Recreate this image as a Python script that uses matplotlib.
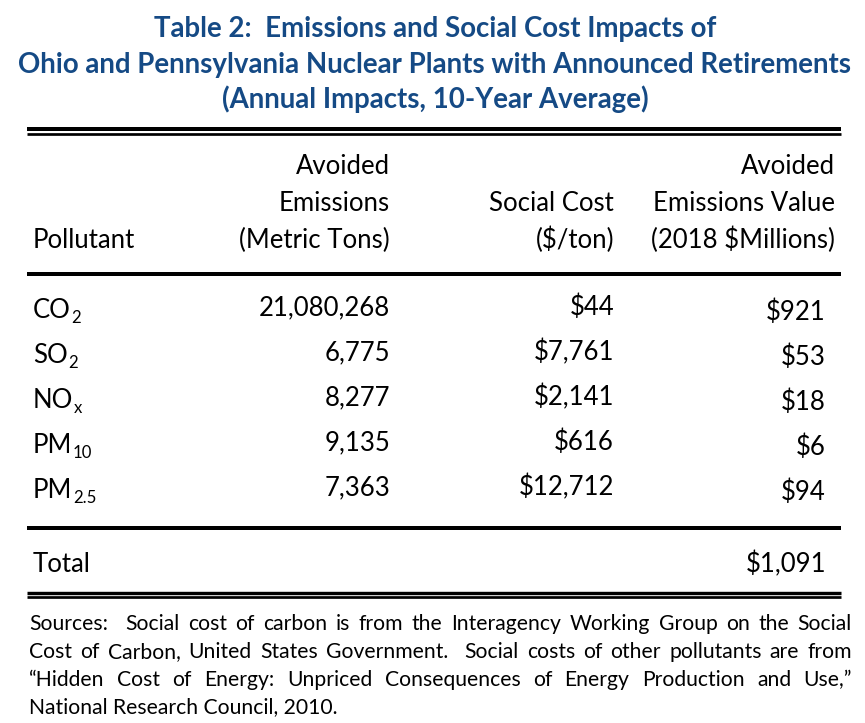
import matplotlib
matplotlib.use("Agg")
import matplotlib.pyplot as plt

# ---------------- data ----------------
TITLE_LINES = [
    "Table 2:  Emissions and Social Cost Impacts of",
    "Ohio and Pennsylvania Nuclear Plants with Announced Retirements",
    "(Annual Impacts, 10-Year Average)",
]
HEAD_POLLUTANT = "Pollutant"
HEAD_TONS = ["Avoided", "Emissions", "(Metric Tons)"]
HEAD_COST = ["Social Cost", "($/ton)"]
HEAD_VALUE = ["Avoided", "Emissions Value", "(2018 $Millions)"]

POLLUTANT_BASE = ["CO", "SO", "NO", "PM", "PM"]
POLLUTANT_SUB = ["2", "2", "x", "10", "2.5"]
AVOIDED_TONS = ["21,080,268", "6,775", "8,277", "9,135", "7,363"]
SOCIAL_COST = ["$44", "$7,761", "$2,141", "$616", "$12,712"]
VALUE_MILLIONS = ["$921", "$53", "$18", "$6", "$94"]
TOTAL_LABEL = "Total"
TOTAL_VALUE = "$1,091"

SOURCES_LINES = [
    "Sources:  Social cost of carbon is from the Interagency Working Group on the Social",
    "Cost of Carbon, United States Government.  Social costs of other pollutants are from",
    "\u201cHidden Cost of Energy: Unpriced Consequences of Energy Production and Use,\u201d",
    "National Research Council, 2010.",
]

# ---------------- style / layout ----------------
FONT = ["Lato", "DejaVu Sans"]
TITLE_COLOR = "#154A85"
W, H = 865, 723

fig = plt.figure(figsize=(W / 100, H / 100), dpi=100)
ax = fig.add_axes([0, 0, 1, 1])
ax.set_xlim(0, W)
ax.set_ylim(H, 0)
ax.axis("off")
fig.canvas.draw()
R = fig.canvas.get_renderer()


def put(x, y, s, size, ha="left", weight="normal", color="black"):
    return ax.text(x, y, s, fontsize=size, ha=ha, va="baseline",
                   fontweight=weight, color=color, family=FONT,
                   parse_math=False)


def width(s, size, weight="normal"):
    t = put(0, 0, s, size, weight=weight)
    w = t.get_window_extent(R).width
    t.remove()
    return w


# fit font sizes to reference widths
title_fs = 17 * 834 / width(TITLE_LINES[1], 17, "bold")
body_fs = 16 * 184 / width(HEAD_VALUE[2], 16)
src_fs = 12 * 308 / width(SOURCES_LINES[3], 12)
sub_fs = body_fs * 0.65

# title
for yb, line in zip([37, 73, 108], TITLE_LINES):
    put(435, yb, line, title_fs, ha="center", weight="bold", color=TITLE_COLOR)

# rules
LX0, LX1 = 27, 841


def rule(y, px):
    ax.plot([LX0, LX1], [y, y], color="black", lw=px * 0.72,
            solid_capstyle="butt")


rule(129.3, 4.0)
rule(134.0, 2.7)
rule(274.0, 4.0)
rule(528.0, 4.0)
rule(592.7, 3.4)
rule(597.4, 2.7)

# header
COL_L = 33
COL_TONS = 390
COL_COST = 614
COL_VALUE = 835
COL_VALUE_NUM = 826
HB = [174, 211, 248]
put(COL_L, HB[2], HEAD_POLLUTANT, body_fs)
for yb, s in zip(HB, HEAD_TONS):
    put(COL_TONS, yb, s, body_fs, ha="right")
for yb, s in zip(HB[1:], HEAD_COST):
    put(COL_COST, yb, s, body_fs, ha="right")
for yb, s in zip(HB, HEAD_VALUE):
    put(COL_VALUE, yb, s, body_fs, ha="right")

# rows
ROW0, ROWSTEP = 315, 45
for i in range(len(POLLUTANT_BASE)):
    yb = ROW0 + i * ROWSTEP
    t = put(COL_L, yb + 3, POLLUTANT_BASE[i], body_fs)
    x1 = t.get_window_extent(R).x1
    put(x1 + 0.5, yb + 8, POLLUTANT_SUB[i], sub_fs)
    put(COL_TONS, yb, AVOIDED_TONS[i], body_fs, ha="right")
    put(COL_COST, yb, SOCIAL_COST[i], body_fs, ha="right")
    put(COL_VALUE_NUM, yb + 5, VALUE_MILLIONS[i], body_fs, ha="right")

# total
put(COL_L, 572, TOTAL_LABEL, body_fs)
put(COL_VALUE_NUM, 572, TOTAL_VALUE, body_fs, ha="right")

# sources (justified)
SX0, SX1 = 29, 852
for k, (yb, line) in enumerate(zip([630, 658, 686, 713], SOURCES_LINES)):
    if k == len(SOURCES_LINES) - 1:
        put(SX0, yb, line, src_fs)
        continue
    toks = line.split(" ")
    words, gaps = [], []
    pending = 0
    for tkn in toks:
        if tkn == "":
            pending += 1
            continue
        if words:
            gaps.append(1 + pending)
        pending = 0
        words.append(tkn)
    ws = [width(wd, src_fs) for wd in words]
    unit = (SX1 - SX0 - sum(ws)) / sum(gaps)
    x = SX0
    for j, wd in enumerate(words):
        put(x, yb, wd, src_fs)
        if j < len(gaps):
            x += ws[j] + unit * gaps[j]

fig.savefig("out.png", dpi=100)
